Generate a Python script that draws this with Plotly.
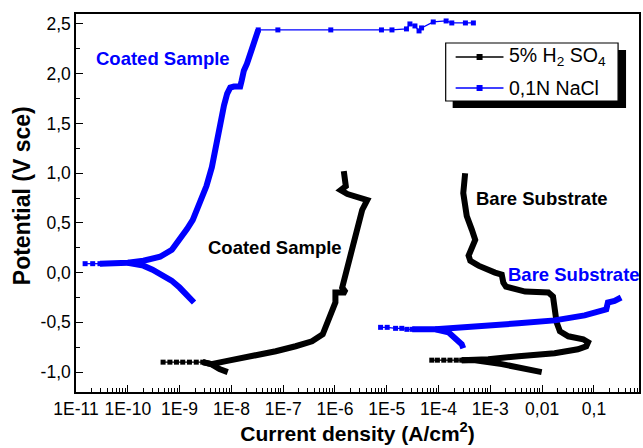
import plotly.graph_objects as go

# ---------------- data ----------------
# 0.1N NaCl - coated sample
nacl_coat_pre_i = [1.5e-11, 2.1e-11, 2.9e-11]
nacl_coat_pre_e = [0.09, 0.09, 0.09]
nacl_coat_an_i = [2.9e-11, 6.3e-11, 1.0e-10, 2.0e-10, 4.2e-10, 7.1e-10, 1.0e-9, 1.4e-9, 1.8e-9,
                  2.5e-9, 3.3e-9, 4.2e-9, 5.1e-9, 6.3e-9, 7.2e-9, 8.3e-9, 9.5e-9, 1.12e-8, 1.48e-8,
                  1.58e-8, 1.74e-8, 2.0e-8, 2.24e-8, 2.7e-8, 3.0e-8, 3.3e-8]
nacl_coat_an_e = [0.09, 0.095, 0.10, 0.12, 0.16, 0.23, 0.33, 0.44, 0.53,
                  0.70, 0.87, 1.06, 1.31, 1.55, 1.68, 1.80, 1.86, 1.87, 1.87,
                  1.93, 2.03, 2.10, 2.17, 2.30, 2.37, 2.44]
nacl_coat_cat_i = [1.0e-10, 2.0e-10, 3.0e-10, 5.0e-10, 7.0e-10, 1.0e-9, 1.4e-9, 1.9e-9]
nacl_coat_cat_e = [0.10, 0.07, 0.03, -0.03, -0.08, -0.15, -0.23, -0.30]
nacl_coat_top_i = [3.3e-8, 7.9e-8, 8.3e-7, 7.9e-6, 1.26e-5, 2.4e-5, 2.8e-5, 3.5e-5, 4.2e-5,
                   4.7e-5, 7.9e-5, 1.4e-4, 1.8e-4, 3.3e-4, 4.7e-4]
nacl_coat_top_e = [2.44, 2.44, 2.44, 2.44, 2.44, 2.45, 2.50, 2.48, 2.43,
                   2.46, 2.52, 2.53, 2.51, 2.51, 2.51]

# 0.1N NaCl - bare substrate
nacl_bare_pre_i = [7.6e-6, 1.02e-5, 1.48e-5, 1.95e-5, 2.45e-5, 3.1e-5]
nacl_bare_pre_e = [-0.55, -0.55, -0.56, -0.56, -0.57, -0.57]
nacl_bare_cat_i = [3.1e-5, 8.7e-5, 1.55e-4, 2.24e-4, 2.8e-4, 3.0e-4]
nacl_bare_cat_e = [-0.57, -0.57, -0.60, -0.67, -0.72, -0.76]
nacl_bare_an_i = [8.7e-5, 3.8e-4, 3.5e-3, 1.74e-2, 6.6e-2, 0.173, 0.186, 0.25, 0.335]
nacl_bare_an_e = [-0.57, -0.54, -0.51, -0.48, -0.43, -0.37, -0.30, -0.285, -0.25]

# 5% H2SO4 - coated sample
h2so4_coat_pre_i = [4.8e-10, 6.5e-10, 8.7e-10, 1.15e-9, 1.55e-9, 2.1e-9, 2.8e-9]
h2so4_coat_pre_e = [-0.90, -0.90, -0.90, -0.90, -0.90, -0.90, -0.90]
h2so4_coat_low_i = [2.8e-9, 4.1e-9, 5.9e-9, 8.5e-9]
h2so4_coat_low_e = [-0.90, -0.92, -0.97, -1.00]
h2so4_coat_an_i = [2.8e-9, 4.1e-9, 7.9e-9, 2.2e-8, 7.2e-8, 1.74e-7, 3.6e-7, 5.8e-7, 7.6e-7,
                   1.02e-6, 1.02e-6, 1.62e-6, 1.38e-6, 1.86e-6, 2.5e-6, 3.35e-6, 4.2e-6,
                   2.1e-6, 1.74e-6, 1.29e-6, 1.62e-6, 1.48e-6]
h2so4_coat_an_e = [-0.90, -0.92, -0.89, -0.85, -0.79, -0.74, -0.69, -0.62, -0.47,
                   -0.30, -0.20, -0.20, -0.15, 0.10, 0.37, 0.63, 0.73,
                   0.77, 0.79, 0.83, 0.87, 1.02]

# 5% H2SO4 - bare substrate
h2so4_bare_pre_i = [7.4e-5, 9.5e-5, 1.26e-4, 1.66e-4, 2.2e-4, 2.8e-4]
h2so4_bare_pre_e = [-0.88, -0.88, -0.88, -0.88, -0.88, -0.88]
h2so4_bare_low_i = [2.8e-4, 5.1e-4, 1.66e-3, 9.8e-3]
h2so4_bare_low_e = [-0.88, -0.88, -0.92, -1.00]
h2so4_bare_an_i = [2.8e-4, 5.1e-4, 9.1e-4, 3.5e-3, 1.74e-2, 4.9e-2, 7.1e-2, 7.7e-2, 6.2e-2,
                   3.2e-2, 2.2e-2, 1.9e-2, 1.74e-2, 1.62e-2, 1.32e-2, 4.7e-3, 2.0e-3,
                   1.78e-3, 1.66e-3, 1.23e-3, 5.9e-4, 4.1e-4, 3.8e-4, 4.7e-4, 5.1e-4,
                   4.4e-4, 3.5e-4, 3.0e-4, 3.26e-4]
h2so4_bare_an_e = [-0.88, -0.88, -0.87, -0.84, -0.81, -0.77, -0.74, -0.70, -0.67,
                   -0.64, -0.59, -0.50, -0.37, -0.24, -0.20, -0.19, -0.14,
                   -0.10, -0.02, 0.0, 0.07, 0.12, 0.17, 0.27, 0.33,
                   0.43, 0.57, 0.80, 1.00]

x_tickvals = [1e-11, 1e-10, 1e-9, 1e-8, 1e-7, 1e-6, 1e-5, 1e-4, 1e-3, 1e-2, 1e-1]
x_ticktext = ["1E-11", "1E-10", "1E-9", "1E-8", "1E-7", "1E-6", "1E-5", "1E-4", "1E-3", "0,01", "0,1"]
y_tickvals = [-1.0, -0.5, 0.0, 0.5, 1.0, 1.5, 2.0, 2.5]
y_ticktext = ["-1,0", "-0,5", "0,0", "0,5", "1,0", "1,5", "2,0", "2,5"]

series_names = ["5% H<sub>2</sub> SO<sub>4</sub>", "0,1N NaCl"]
BLACK = "#000000"
BLUE = "#0000ff"

# ---------------- figure ----------------
FW, FH = 643, 448
L, R, T, Bm = 76, 2, 14, 56
PW, PH = FW - L - R, FH - T - Bm
FONT = "Liberation Sans, Arial, Helvetica, sans-serif"


def pxx(x):
    return (x - L) / PW


def pxy(y):
    return (FH - Bm - y) / PH


fig = go.Figure()


def thick(i, e, color):
    fig.add_trace(go.Scatter(x=i, y=e, mode="lines", line=dict(color=color, width=6),
                             showlegend=False, hoverinfo="skip"))


def sparse(i, e, color):
    fig.add_trace(go.Scatter(x=i, y=e, mode="lines+markers",
                             line=dict(color=color, width=1.3),
                             marker=dict(symbol="square", size=5, color=color),
                             showlegend=False, hoverinfo="skip"))


# black (H2SO4)
sparse(h2so4_coat_pre_i, h2so4_coat_pre_e, BLACK)
thick(h2so4_coat_low_i, h2so4_coat_low_e, BLACK)
thick(h2so4_coat_an_i, h2so4_coat_an_e, BLACK)
sparse(h2so4_bare_pre_i, h2so4_bare_pre_e, BLACK)
thick(h2so4_bare_low_i, h2so4_bare_low_e, BLACK)
thick(h2so4_bare_an_i, h2so4_bare_an_e, BLACK)
# blue (NaCl)
sparse(nacl_coat_pre_i, nacl_coat_pre_e, BLUE)
thick(nacl_coat_an_i, nacl_coat_an_e, BLUE)
thick(nacl_coat_cat_i, nacl_coat_cat_e, BLUE)
sparse(nacl_coat_top_i, nacl_coat_top_e, BLUE)
sparse(nacl_bare_pre_i, nacl_bare_pre_e, BLUE)
thick(nacl_bare_cat_i, nacl_bare_cat_e, BLUE)
thick(nacl_bare_an_i, nacl_bare_an_e, BLUE)

minor_x = [m * 10.0 ** k for k in range(-11, 0) for m in range(2, 10)]

fig.update_xaxes(type="log", range=[-11, -0.13],
                 tickvals=x_tickvals, ticktext=x_ticktext,
                 ticks="inside", ticklen=7, tickwidth=1.2, tickcolor="black",
                 minor=dict(tickvals=minor_x, ticks="inside", ticklen=4, tickwidth=1, tickcolor="black"),
                 showline=True, linecolor="black", linewidth=1.5, mirror=True,
                 showgrid=False, zeroline=False,
                 tickfont=dict(family=FONT, size=17.5, color="black"),
                 title=dict(text="<b>Current density (A/cm<sup>2</sup>)</b>",
                            font=dict(family=FONT, size=21, color="black"), standoff=6))
fig.update_yaxes(range=[-1.2, 2.6],
                 tickvals=y_tickvals, ticktext=y_ticktext,
                 ticks="inside", ticklen=7, tickwidth=1.2, tickcolor="black",
                 minor=dict(dtick=0.25, ticks="inside", ticklen=4, tickwidth=1, tickcolor="black"),
                 showline=True, linecolor="black", linewidth=1.5, mirror=True,
                 showgrid=False, zeroline=False,
                 tickfont=dict(family=FONT, size=17.5, color="black"))

shapes = []
annotations = []

# y axis title, placed as in the reference
annotations.append(dict(xref="paper", yref="paper", x=pxx(22), y=pxy(196),
                        xanchor="center", yanchor="middle", showarrow=False, textangle=-90,
                        text="<b>Potential (V sce)</b>",
                        font=dict(family=FONT, size=23, color="black")))

# legend (drawn manually, with drop shadow)
shapes.append(dict(type="rect", xref="paper", yref="paper",
                   x0=pxx(454), x1=pxx(628), y0=pxy(108), y1=pxy(50),
                   fillcolor="black", line=dict(color="black", width=0)))
shapes.append(dict(type="rect", xref="paper", yref="paper",
                   x0=pxx(447), x1=pxx(620), y0=pxy(101), y1=pxy(43),
                   fillcolor="white", line=dict(color="black", width=1.2)))
for row_y, name, col in [(57, series_names[0], BLACK), (88, series_names[1], BLUE)]:
    shapes.append(dict(type="line", xref="paper", yref="paper",
                       x0=pxx(457), x1=pxx(505), y0=pxy(row_y), y1=pxy(row_y),
                       line=dict(color=col, width=1.3)))
    shapes.append(dict(type="rect", xref="paper", yref="paper",
                       x0=pxx(478), x1=pxx(484), y0=pxy(row_y + 3), y1=pxy(row_y - 3),
                       fillcolor=col, line=dict(color=col, width=0)))
    annotations.append(dict(xref="paper", yref="paper", x=pxx(509), y=pxy(row_y),
                            xanchor="left", yanchor="middle", showarrow=False,
                            text=name, font=dict(family=FONT, size=19.5, color="black")))

# curve labels
for cx, cy, txt, col in [(163, 58, "Coated Sample", BLUE),
                         (276, 247, "Coated Sample", BLACK),
                         (544, 198, "Bare Substrate", BLACK),
                         (576, 274, "Bare Substrate", BLUE)]:
    annotations.append(dict(xref="paper", yref="paper", x=pxx(cx), y=pxy(cy),
                            xanchor="center", yanchor="middle", showarrow=False,
                            text="<b>%s</b>" % txt, font=dict(family=FONT, size=18.5, color=col)))

fig.update_layout(width=FW, height=FH,
                  margin=dict(l=L, r=R, t=T, b=Bm, pad=0),
                  paper_bgcolor="white", plot_bgcolor="white",
                  showlegend=False, shapes=shapes, annotations=annotations,
                  font=dict(family=FONT, color="black"))

fig.write_html("out.html")
